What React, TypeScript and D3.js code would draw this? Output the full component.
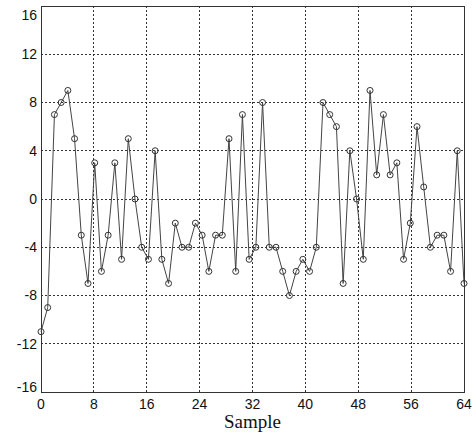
import * as d3 from "d3";

const yValues = [
  -11, -9, 7, 8, 9, 5, -3, -7, 3, -6, -3, 3, -5, 5, 0, -4, -5, 4, -5, -7, -2,
  -4, -4, -2, -3, -6, -3, -3, 5, -6, 7, -5, -4, 8, -4, -4, -6, -8, -6, -5, -6,
  -4, 8, 7, 6, -7, 4, 0, -5, 9, 2, 7, 2, 3, -5, -2, 6, 1, -4, -3, -3, -6, 4, -7,
];
const xTicks = [0, 8, 16, 24, 32, 40, 48, 56, 64];
const yTicks = [-16, -12, -8, -4, 0, 4, 8, 12, 16];
const xLabel = "Sample";

const W = 476;
const H = 445;
const margin = { left: 41, right: 12, top: 6, bottom: 53 };

export default function App() {
  const x = d3.scaleLinear().domain([0, 64]).range([margin.left, W - margin.right]);
  const y = d3.scaleLinear().domain([-16, 16]).range([H - margin.bottom, margin.top]);

  // samples are spread across the full 0..64 span
  const n = yValues.length;
  const pts: [number, number][] = yValues.map((v, i) => [x((i * 64) / (n - 1)), y(v)]);
  const line = d3.line()(pts) ?? "";

  const tickFont = "'Liberation Sans', Arial, sans-serif";

  return (
    <svg
      width={W}
      height={H}
      style={{ position: "absolute", left: 0, top: 0, background: "#fff" }}
    >
      {/* grid */}
      <g stroke="#333" strokeWidth={1} strokeDasharray="2,2" shapeRendering="crispEdges">
        {xTicks.slice(1, -1).map((t) => (
          <line key={"gx" + t} x1={x(t)} x2={x(t)} y1={y(-16)} y2={y(16)} />
        ))}
        {yTicks.slice(1, -1).map((t) => (
          <line key={"gy" + t} x1={x(0)} x2={x(64)} y1={y(t)} y2={y(t)} />
        ))}
      </g>

      {/* frame */}
      <rect
        x={x(0)}
        y={y(16)}
        width={x(64) - x(0)}
        height={y(-16) - y(16)}
        fill="none"
        stroke="#333"
        strokeWidth={1}
        shapeRendering="crispEdges"
      />

      {/* series */}
      <path d={line} fill="none" stroke="#444" strokeWidth={1} />
      {pts.map((p, i) => (
        <circle key={i} cx={p[0]} cy={p[1]} r={3} fill="none" stroke="#333" strokeWidth={1} />
      ))}

      {/* y tick labels */}
      <g fontFamily={tickFont} fontSize={14} fill="#111" textAnchor="end">
        {yTicks.map((t) => (
          <text key={"yl" + t} x={37} y={Math.min(Math.max(y(t), 15), 387)} dy="0.35em">
            {t}
          </text>
        ))}
      </g>

      {/* x tick labels */}
      <g fontFamily={tickFont} fontSize={14} fill="#111" textAnchor="middle">
        {xTicks.map((t) => (
          <text key={"xl" + t} x={x(t)} y={404} dy="0.35em">
            {t}
          </text>
        ))}
      </g>

      <text
        x={(x(0) + x(64)) / 2}
        y={428}
        textAnchor="middle"
        fontFamily="'Liberation Serif', 'Times New Roman', serif"
        fontSize={19}
        fill="#111"
      >
        {xLabel}
      </text>
    </svg>
  );
}
